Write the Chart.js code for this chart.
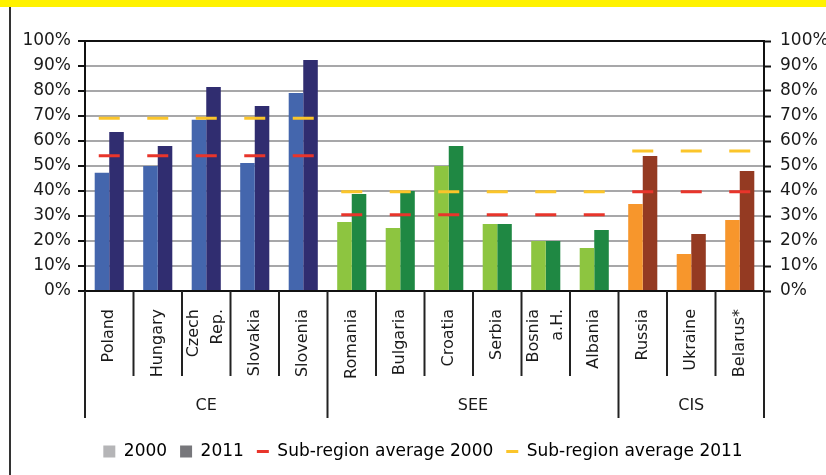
<!DOCTYPE html>
<html>
<head>
<meta charset="utf-8">
<script src="https://cdn.jsdelivr.net/npm/chart.js@4.4.1/dist/chart.umd.min.js"></script>
<style>
  html, body { margin: 0; padding: 0; background: #fff; }
  #wrap { position: relative; width: 826px; height: 475px; overflow: hidden; }
  #banner { position: absolute; left: 0; top: 0; width: 826px; height: 7px; background: #fff200; }
  #frame { position: absolute; left: 9px; top: 7px; width: 2px; height: 468px; background: #333; }
  #box { position: absolute; left: 0; top: 0; width: 826px; height: 475px; }
</style>
</head>
<body>
<div id="wrap">
  <div id="banner"></div>
  <div id="frame"></div>
  <div id="box"><canvas id="c"></canvas></div>
</div>
<script>
// ---- data ----
const categories = ['Poland', 'Hungary', ['Czech', 'Rep.'], 'Slovakia', 'Slovenia',
  'Romania', 'Bulgaria', 'Croatia', 'Serbia', ['Bosnia', 'a.H.'], 'Albania',
  'Russia', 'Ukraine', 'Belarus*'];
const values2000 = [47.3, 50.0, 68.5, 51.2, 79.2, 27.6, 25.2, 50.0, 26.8, 20.0, 17.2, 34.8, 14.8, 28.4];
const values2011 = [63.6, 58.0, 81.6, 74.0, 92.4, 38.8, 40.0, 58.0, 26.8, 20.0, 24.4, 54.0, 22.8, 48.0];
const subRegions = ['CE', 'SEE', 'CIS'];
const subRegionSizes = [5, 6, 3];
const subRegionAvg2000 = [54.1, 30.5, 39.7];
const subRegionAvg2011 = [69.1, 39.7, 56.0];
const yTickValues = [0, 10, 20, 30, 40, 50, 60, 70, 80, 90, 100];
const legendLabels = ['2000', '2011', 'Sub-region average 2000', 'Sub-region average 2011'];

// ---- styles ----
const colors2000 = ['#4466ad', '#8dc540', '#f7962c'];
const colors2011 = ['#302d70', '#1f8843', '#943a22'];
const avgColor2000 = '#e8352b';
const avgColor2011 = '#fbc52a';
const FONT = 'DejaVu Sans';
const TEXT = '#1a1a1a';

// build per-category helpers
const groupIndex = [];
subRegionSizes.forEach((n, g) => { for (let i = 0; i < n; i++) groupIndex.push(g); });
const barColors2000 = groupIndex.map(g => colors2000[g]);
const barColors2011 = groupIndex.map(g => colors2011[g]);
const avgLine2000 = groupIndex.map(g => subRegionAvg2000[g]);
const avgLine2011 = groupIndex.map(g => subRegionAvg2011[g]);

const groupAxisPlugin = {
  id: 'groupAxis',
  afterDraw(chart) {
    const ctx = chart.ctx;
    const xs = chart.scales.x;
    const n = categories.length;
    const base = chart.chartArea.bottom;
    const bounds = [];
    for (let i = 0; i <= n; i++) {
      if (i === 0) bounds.push(xs.left);
      else if (i === n) bounds.push(xs.right);
      else bounds.push((xs.getPixelForValue(i - 1) + xs.getPixelForValue(i)) / 2);
    }
    const groupStarts = [0];
    subRegionSizes.forEach(s => groupStarts.push(groupStarts[groupStarts.length - 1] + s));
    ctx.save();
    ctx.strokeStyle = '#222';
    ctx.lineWidth = 2;
    bounds.forEach((bx, i) => {
      const long = groupStarts.includes(i);
      ctx.beginPath();
      ctx.moveTo(bx, base);
      ctx.lineTo(bx, base + (long ? 127 : 85));
      ctx.stroke();
    });
    ctx.fillStyle = TEXT;
    ctx.font = '16px "' + FONT + '"';
    // category labels, rotated, reading bottom to top, end near the axis
    categories.forEach((lab, i) => {
      const lines = Array.isArray(lab) ? lab : [lab];
      const px = xs.getPixelForValue(i);
      ctx.save();
      ctx.translate(px, base + 18);
      ctx.rotate(-Math.PI / 2);
      ctx.textAlign = 'right';
      ctx.textBaseline = 'middle';
      const lh = 24;
      lines.forEach((ln, k) => {
        const off = (k - (lines.length - 1) / 2) * lh;
        ctx.fillText(ln, 0, off);
      });
      ctx.restore();
    });
    ctx.textAlign = 'center';
    ctx.textBaseline = 'middle';
    subRegions.forEach((name, g) => {
      const cx = (bounds[groupStarts[g]] + bounds[groupStarts[g + 1]]) / 2;
      ctx.fillText(name, cx, base + 115);
    });
    ctx.restore();
  }
};

new Chart(document.getElementById('c'), {
  data: {
    labels: categories,
    datasets: [
      { type: 'line', label: legendLabels[2], data: avgLine2000, showLine: false,
        pointStyle: 'line', pointRadius: 10.5, pointHoverRadius: 10.5, pointBorderWidth: 3,
        pointHoverBorderWidth: 3, borderColor: avgColor2000, backgroundColor: avgColor2000, order: 0 },
      { type: 'line', label: legendLabels[3], data: avgLine2011, showLine: false,
        pointStyle: 'line', pointRadius: 10.5, pointHoverRadius: 10.5, pointBorderWidth: 3,
        pointHoverBorderWidth: 3, borderColor: avgColor2011, backgroundColor: avgColor2011, order: 0 },
      { type: 'bar', label: legendLabels[0], data: values2000, backgroundColor: barColors2000,
        borderWidth: 0, categoryPercentage: 0.6, barPercentage: 1.0, order: 1 },
      { type: 'bar', label: legendLabels[1], data: values2011, backgroundColor: barColors2011,
        borderWidth: 0, categoryPercentage: 0.6, barPercentage: 1.0, order: 1 }
    ]
  },
  options: {
    responsive: true,
    maintainAspectRatio: false,
    animation: false,
    layout: { padding: { top: 41, left: 20, right: 0, bottom: 5 } },
    plugins: {
      tooltip: { enabled: false },
      legend: {
        position: 'bottom',
        labels: {
          font: { family: FONT, size: 17 },
          color: TEXT,
          usePointStyle: true,
          boxHeight: 12,
          pointStyleWidth: 12,
          padding: 13,
          generateLabels: () => [
            { text: legendLabels[0], fillStyle: '#b5b5b7', strokeStyle: '#b5b5b7', lineWidth: 0, pointStyle: 'rect', hidden: false, datasetIndex: 2 },
            { text: legendLabels[1], fillStyle: '#77777b', strokeStyle: '#77777b', lineWidth: 0, pointStyle: 'rect', hidden: false, datasetIndex: 3 },
            { text: legendLabels[2], fillStyle: avgColor2000, strokeStyle: avgColor2000, lineWidth: 3, pointStyle: 'line', hidden: false, datasetIndex: 0 },
            { text: legendLabels[3], fillStyle: avgColor2011, strokeStyle: avgColor2011, lineWidth: 3, pointStyle: 'line', hidden: false, datasetIndex: 1 }
          ]
        }
      }
    },
    scales: {
      x: {
        type: 'category',
        offset: true,
        grid: { display: false },
        border: { display: true, color: '#111', width: 2 },
        ticks: { display: false },
        afterFit: (s) => { s.height = 139; }
      },
      y: {
        position: 'left',
        min: 0, max: 100,
        afterBuildTicks: (s) => { s.ticks = yTickValues.map(v => ({ value: v })); },
        grid: {
          color: (c) => (c.tick && c.tick.value === 100) ? '#111' : '#a7a7a9',
          lineWidth: 2,
          tickLength: 7, tickColor: '#111', tickWidth: 2
        },
        border: { display: true, color: '#111', width: 2 },
        ticks: {
          padding: 7, font: { family: FONT, size: 17 }, color: TEXT,
          callback: (v) => v + '%'
        },
        afterFit: (s) => { s.width = 65; }
      },
      y2: {
        position: 'right',
        min: 0, max: 100,
        afterBuildTicks: (s) => { s.ticks = yTickValues.map(v => ({ value: v })); },
        grid: { drawOnChartArea: false, tickLength: 7, tickColor: '#111', tickWidth: 2, color: '#111' },
        border: { display: true, color: '#111', width: 2 },
        ticks: {
          padding: 9, font: { family: FONT, size: 17 }, color: TEXT,
          callback: (v) => v + '%'
        },
        afterFit: (s) => { s.width = 62; }
      }
    }
  },
  plugins: [groupAxisPlugin]
});
</script>
</body>
</html>
